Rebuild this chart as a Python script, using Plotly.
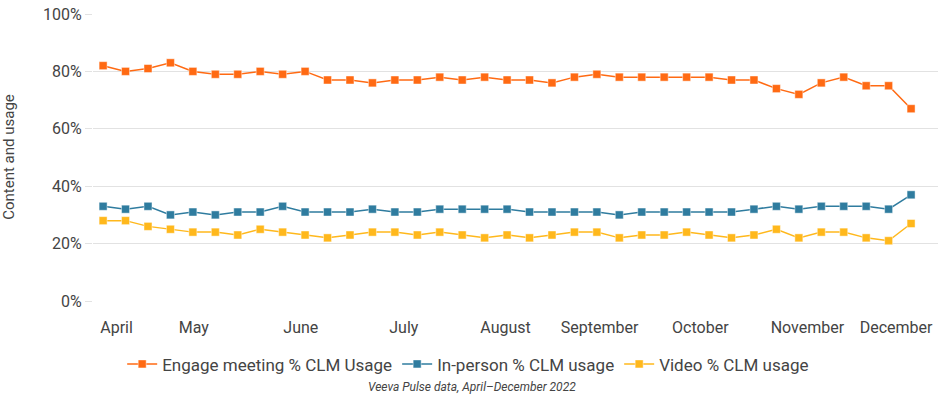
import plotly.graph_objects as go

weeks = list(range(37))
engage = [82, 80, 81, 83, 80, 79, 79, 80, 79, 80, 77, 77, 76, 77, 77, 78, 77, 78, 77, 77,
          76, 78, 79, 78, 78, 78, 78, 78, 77, 77, 74, 72, 76, 78, 75, 75, 67]
inperson = [33, 32, 33, 30, 31, 30, 31, 31, 33, 31, 31, 31, 32, 31, 31, 32, 32, 32, 32, 31,
            31, 31, 31, 30, 31, 31, 31, 31, 31, 32, 33, 32, 33, 33, 33, 32, 37]
video = [28, 28, 26, 25, 24, 24, 23, 25, 24, 23, 22, 23, 24, 24, 23, 24, 23, 22, 23, 22,
         23, 24, 24, 22, 23, 23, 24, 23, 22, 23, 25, 22, 24, 24, 22, 21, 27]
month_labels = ["April", "May", "June", "July", "August", "September", "October", "November", "December"]
month_pos = [0.60, 4.04, 8.81, 13.40, 17.93, 22.12, 26.61, 31.38, 35.33]
y_ticks = [0, 20, 40, 60, 80, 100]
y_labels = ["0%", "20%", "40%", "60%", "80%", "100%"]

series = [
    ("Engage meeting % CLM Usage", engage, "#FF6A13"),
    ("In-person % CLM usage", inperson, "#2F7C9F"),
    ("Video % CLM usage", video, "#FFB81C"),
]

fig = go.Figure()
for name, vals, col in series:
    fig.add_trace(go.Scatter(
        x=weeks, y=vals, name=name, mode="lines+markers",
        line=dict(color=col, width=1.5),
        marker=dict(symbol="square", size=8, color=col,
                    line=dict(color="rgba(255,255,255,0.45)", width=1)),
    ))

font = "Roboto, 'Noto Sans', sans-serif"
fig.update_layout(
    width=940, height=397,
    margin=dict(l=93, r=2, t=13, b=96),
    paper_bgcolor="white", plot_bgcolor="white",
    font=dict(family=font, color="#444444", size=16),
    showlegend=True,
    legend=dict(orientation="h", x=0.444, xanchor="center", y=-0.22, yanchor="middle",
                font=dict(size=17, color="#444444")),
    xaxis=dict(range=[-0.45, 37.2], tickmode="array", tickvals=month_pos, ticktext=month_labels,
               showgrid=False, zeroline=False, showline=False,
               ticks="outside", ticklen=12, tickcolor="rgba(0,0,0,0)",
               tickfont=dict(size=16, color="#444444"), automargin=False),
    yaxis=dict(range=[0, 100.35], tickmode="array", tickvals=y_ticks, ticktext=y_labels,
               showgrid=True, gridcolor="#E2E2E2", gridwidth=1, zeroline=False,
               ticks="outside", ticklen=7, tickcolor="#E2E2E2", ticklabeloverflow="allow",
               tickfont=dict(size=16, color="#444444"), automargin=False,
               title=dict(text="Content and usage", font=dict(size=15, color="#444444"), standoff=29)),
    annotations=[dict(text="<i>Veeva Pulse data, April\u2013December 2022</i>", x=0.449, xref="paper",
                      y=-0.297, yref="paper", yanchor="middle", showarrow=False,
                      font=dict(size=12, color="#444444"))],
)
fig.write_html("out.html", config={"displayModeBar": False},
               post_script="document.body.style.margin='0';")
